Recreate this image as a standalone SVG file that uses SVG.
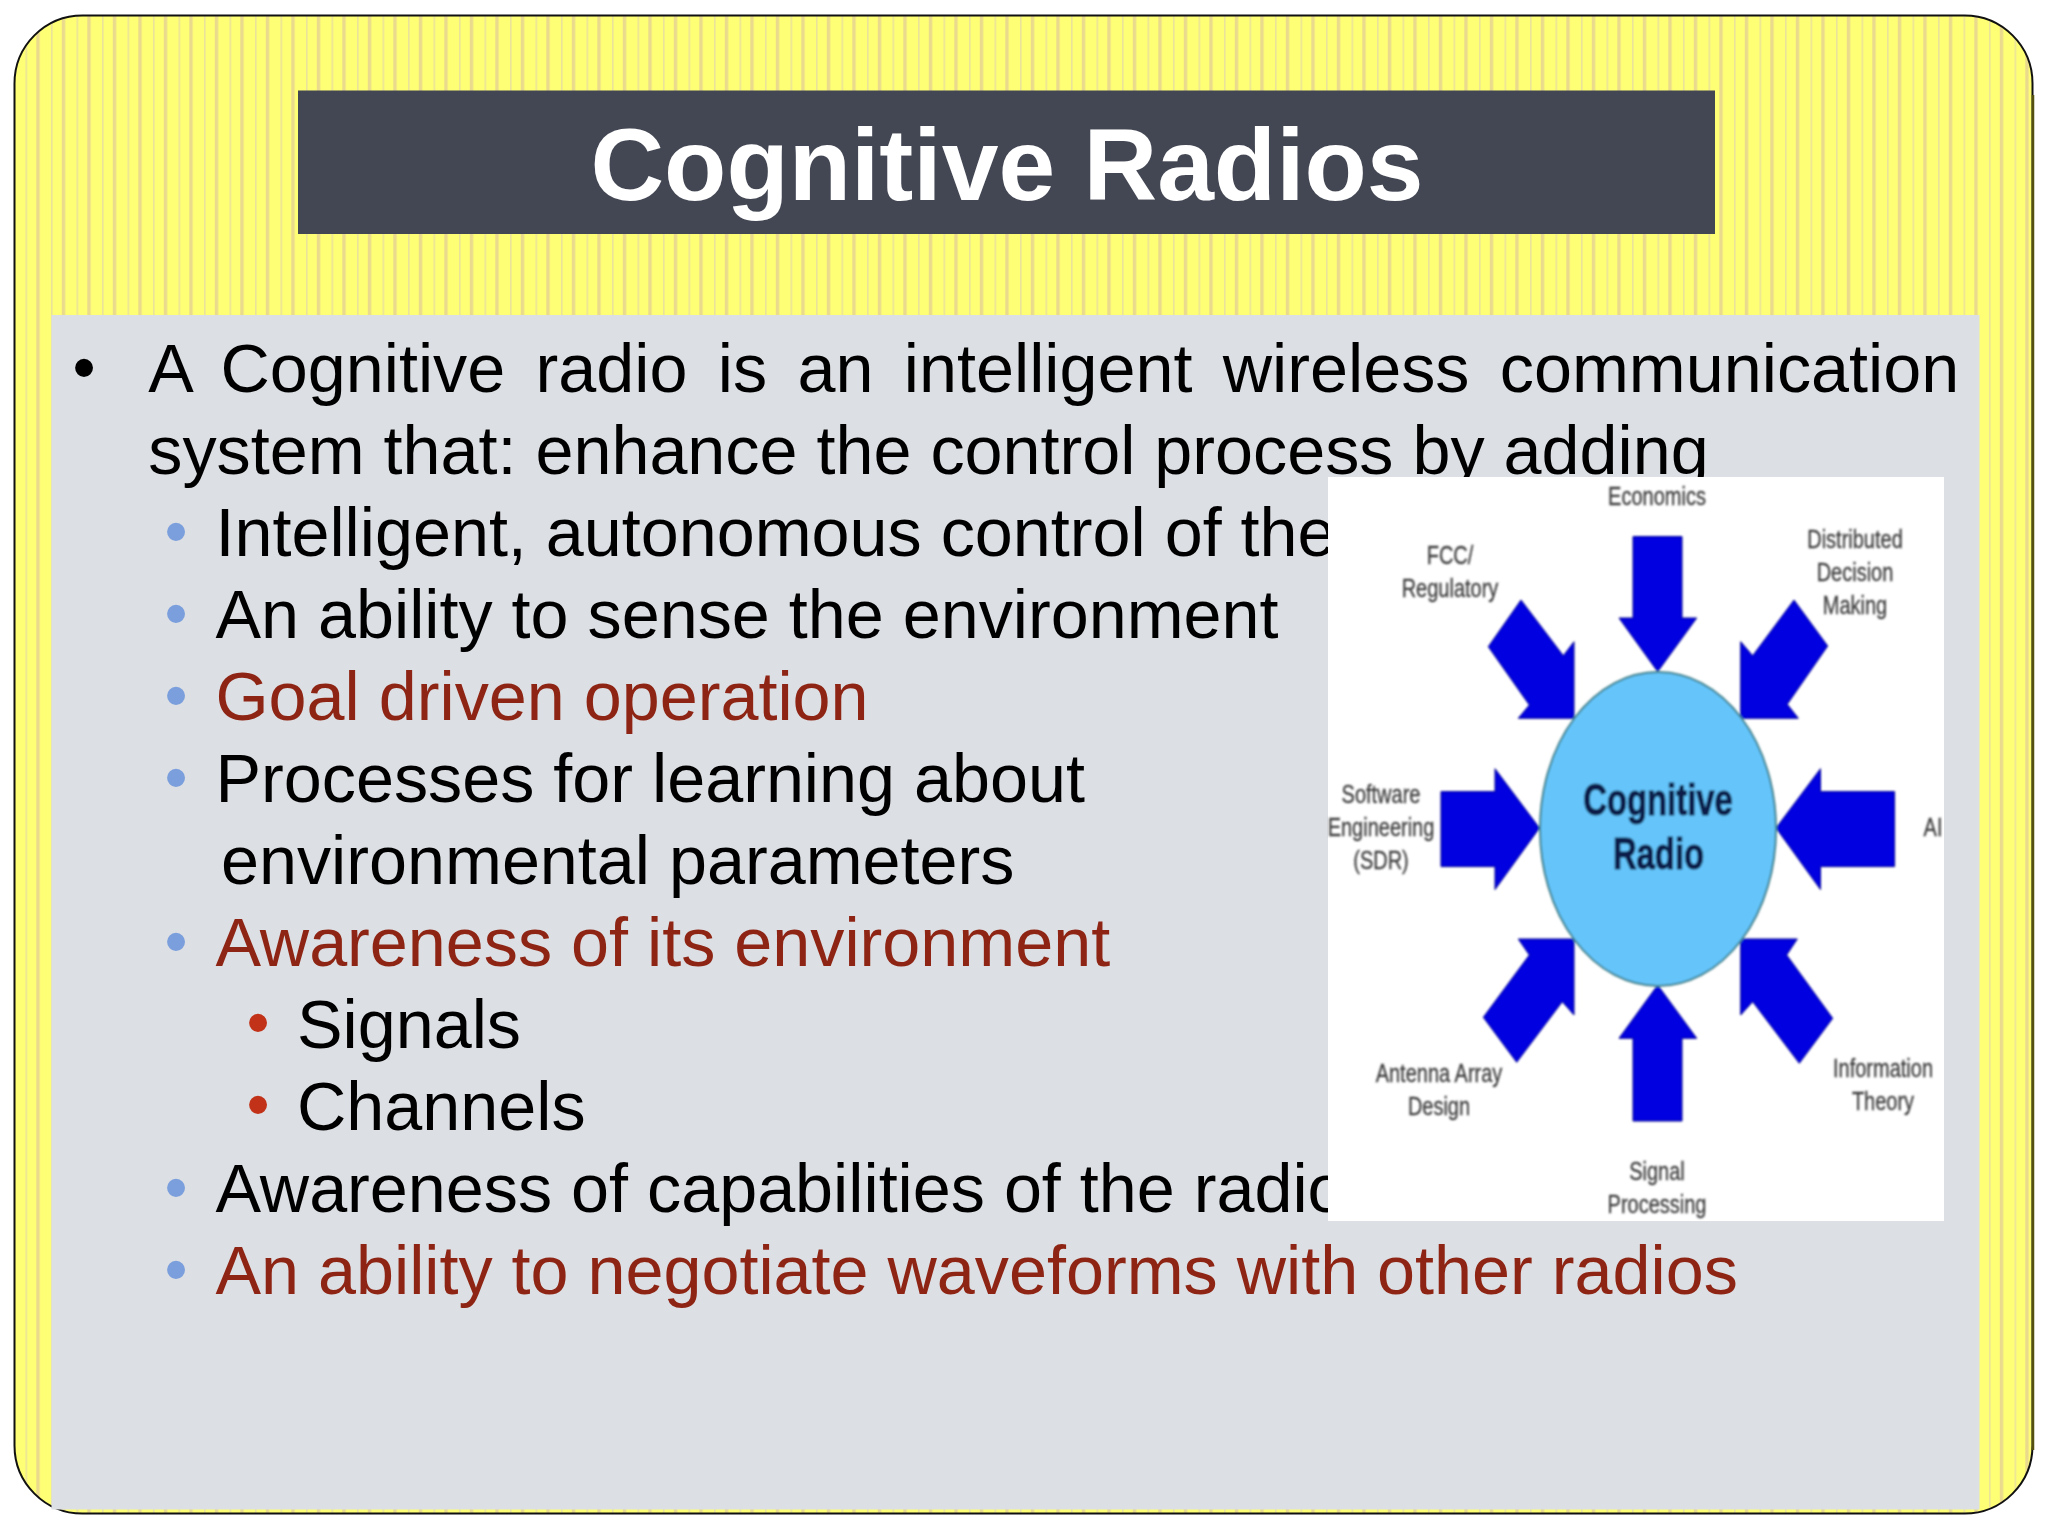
<svg xmlns="http://www.w3.org/2000/svg" width="2048" height="1536" viewBox="0 0 2048 1536">
<style>
text{font-family:"Liberation Sans",Arial,sans-serif}
.b{font-size:68.3px;fill:#000}
.r{font-size:68.3px;fill:#8e2413}
.d1{font-size:66px;fill:#000}
.d2{font-size:66px;fill:#7a9fdc}
.d3{font-size:66px;fill:#c13218}
.l{font-size:25px;fill:#3c3c3c;stroke:#3c3c3c;stroke-width:.3;text-anchor:middle}
.a{fill:#0000e0;stroke:#00008c;stroke-width:1}
</style>
<defs>
<pattern id="st" x="0" y="0" width="25.5" height="40" patternUnits="userSpaceOnUse">
<rect width="25.5" height="40" fill="#ffff75"/>
<rect x="0" y="0" width="1.6" height="40" fill="#ece39a"/>
<rect x="10.8" width="3.4" height="40" fill="#e9da8e"/>
</pattern>
<filter id="bl" x="-5%" y="-5%" width="110%" height="110%"><feGaussianBlur stdDeviation="0.8"/></filter>
</defs>
<rect width="2048" height="1536" fill="#fff"/>
<rect id="frame" x="14.5" y="15.5" width="2018" height="1498" rx="68" ry="68" fill="url(#st)" stroke="#111" stroke-width="2"/>
<path d="M2033 95V1450" stroke="#55500f" stroke-width="2.5" fill="none"/>
<g id="title"><rect x="298" y="90.5" width="1417" height="143.5" fill="#434753"/>
<text x="1007" y="200" font-size="102" font-weight="700" fill="#fff" text-anchor="middle">Cognitive Radios</text></g>
<g id="body"><rect x="51.5" y="315" width="1928" height="1194.5" fill="#dcdfe3"/>
<text class="d1" x="72.6" y="389.6">•</text>
<text class="b" x="148.3" y="392" word-spacing="11.4">A Cognitive radio is an intelligent wireless communication</text>
<text class="b" x="148.3" y="474">system that: enhance the control process by adding</text>
<text class="d2" x="164.6" y="553.6">•</text><text class="b" x="215.5" y="556">Intelligent, autonomous control of the</text>
<text class="d2" x="164.6" y="635.6">•</text><text class="b" x="215.5" y="638">An ability to sense the environment</text>
<text class="d2" x="164.6" y="717.6">•</text><text class="r" x="215.5" y="720">Goal driven operation</text>
<text class="d2" x="164.6" y="799.6">•</text><text class="b" x="215.5" y="802">Processes for learning about</text>
<text class="b" x="221" y="884">environmental parameters</text>
<text class="d2" x="164.6" y="963.6">•</text><text class="r" x="215.5" y="966">Awareness of its environment</text>
<text class="d3" x="246.6" y="1045">•</text><text class="b" x="297" y="1048">Signals</text>
<text class="d3" x="246.6" y="1127">•</text><text class="b" x="297" y="1130">Channels</text>
<text class="d2" x="164.6" y="1209.6">•</text><text class="b" x="215.5" y="1212">Awareness of capabilities of the radio</text>
<text class="d2" x="164.6" y="1291.6">•</text><text class="r" x="215.5" y="1294">An ability to negotiate waveforms with other radios</text>
</g>
<rect id="picture" x="1328" y="477" width="616" height="744" fill="#fff"/>
<g filter="url(#bl)">
<g id="connectors">
<polygon class="a" points="1633,536.5 1682,536.5 1682,618 1696.7,618 1657.7,671.7 1619,618 1633,618"/>
<polygon class="a" points="1633,1121 1682,1121 1682,1038.3 1696.7,1038.3 1657.7,985 1619,1038.3 1633,1038.3"/>
<polygon class="a" points="1441,791.6 1495,791.6 1495,768.7 1539.5,828 1495,889.6 1495,866.6 1441,866.6"/>
<polygon class="a" points="1894.6,791.6 1820.5,791.6 1820.5,768.7 1776,828 1820.5,889.6 1820.5,866.6 1894.6,866.6"/>
<polygon class="a" points="1521,600 1563.3,655.7 1574,641.7 1574,718.3 1518.3,718.3 1529.3,705 1488.3,646.7"/>
<polygon class="a" points="1794,600 1827.7,646 1787.3,704.3 1798.3,718.3 1740.7,718.3 1740.7,641.7 1752.7,655.7"/>
<polygon class="a" points="1518.3,939 1574,939 1574,1015 1562.3,1001.7 1516.7,1062.3 1483.3,1017.3 1529.3,955"/>
<polygon class="a" points="1740.7,939 1797.3,939 1786.7,955 1832.7,1018.3 1799.3,1063.3 1752.7,1001.7 1740.7,1015"/>
</g>
<g id="n-center"><ellipse cx="1658" cy="829" rx="118" ry="157" fill="#65c5fb" stroke="#3f7f8a" stroke-width="2"/>
<g font-size="45" font-weight="700" fill="#071f4a" stroke="#071f4a" stroke-width="1.2" text-anchor="middle">
<text transform="translate(1658 815) scale(.73 1)">Cognitive</text>
<text transform="translate(1658.5 869) scale(.73 1)">Radio</text></g></g>
<g id="n-economics"><text class="l" transform="translate(1657 505) scale(.8 1)">Economics</text></g>
<g id="n-fcc"><text class="l" transform="translate(1450 564) scale(.8 1)">FCC/</text><text class="l" transform="translate(1450 597) scale(.8 1)">Regulatory</text></g>
<g id="n-ddm"><text class="l" transform="translate(1855 548) scale(.8 1)">Distributed</text><text class="l" transform="translate(1855 581) scale(.8 1)">Decision</text><text class="l" transform="translate(1855 614) scale(.8 1)">Making</text></g>
<g id="n-sdr"><text class="l" transform="translate(1381 803) scale(.8 1)">Software</text><text class="l" transform="translate(1381 836) scale(.8 1)">Engineering</text><text class="l" transform="translate(1381 869) scale(.8 1)">(SDR)</text></g>
<g id="n-ai"><text class="l" transform="translate(1933 836) scale(.8 1)">AI</text></g>
<g id="n-antenna"><text class="l" transform="translate(1439 1082) scale(.8 1)">Antenna Array</text><text class="l" transform="translate(1439 1115) scale(.8 1)">Design</text></g>
<g id="n-info"><text class="l" transform="translate(1883 1077) scale(.8 1)">Information</text><text class="l" transform="translate(1883 1110) scale(.8 1)">Theory</text></g>
<g id="n-signal"><text class="l" transform="translate(1657 1180) scale(.8 1)">Signal</text><text class="l" transform="translate(1657 1213) scale(.8 1)">Processing</text></g>
</g>
</svg>
